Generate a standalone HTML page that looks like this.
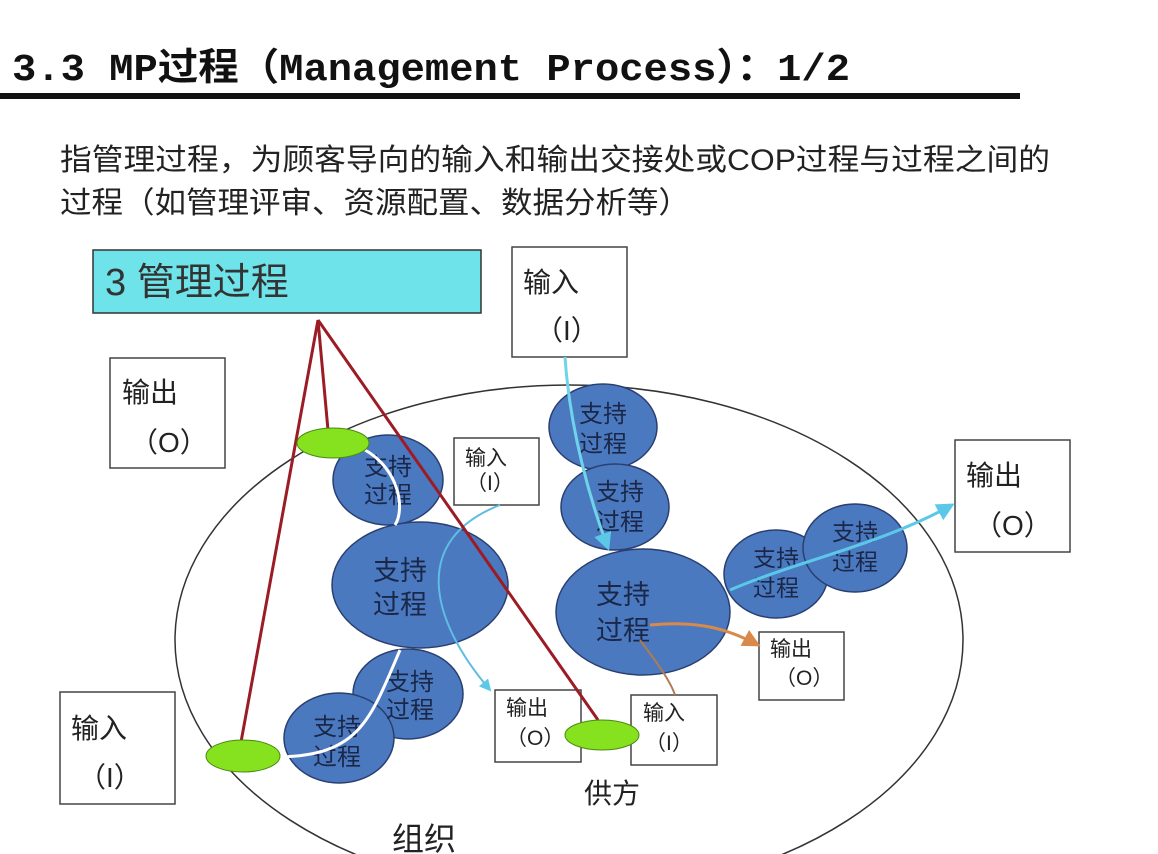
<!DOCTYPE html>
<html><head><meta charset="utf-8"><style>
body{margin:0;width:1158px;height:854px;background:#fff;overflow:hidden}
svg{display:block}
.t{font-family:"Liberation Sans","Noto Sans CJK SC",sans-serif}
</style></head><body>
<svg width="1158" height="854" viewBox="0 0 1158 854">
<defs>
<marker id="ac" markerWidth="6" markerHeight="6" refX="5" refY="3" orient="auto"><path d="M0,0 L6,3 L0,6 z" fill="#5cc8e8"/></marker>
<marker id="ao" markerWidth="6" markerHeight="6" refX="5" refY="3" orient="auto"><path d="M0,0 L6,3 L0,6 z" fill="#d98a4a"/></marker>
</defs>
<text x="12" y="80" font-size="38" font-weight="bold" textLength="838" lengthAdjust="spacingAndGlyphs" style="font-family:'Liberation Mono','Noto Sans CJK SC',monospace" fill="#111">3.3 MP过程（Management Process）：1/2</text>
<rect x="0" y="93" width="1020" height="6" fill="#111"/>
<text x="60" y="170" font-size="30" class="t" fill="#222" textLength="990" lengthAdjust="spacingAndGlyphs">指管理过程，为顾客导向的输入和输出交接处或COP过程与过程之间的</text>
<text x="60" y="213" font-size="30" class="t" fill="#222" textLength="630" lengthAdjust="spacingAndGlyphs">过程（如管理评审、资源配置、数据分析等）</text>

<ellipse cx="569" cy="640" rx="394" ry="255" fill="none" stroke="#333" stroke-width="1.5"/>

<rect x="93" y="250" width="388" height="63" fill="#6ee3ea" stroke="#333" stroke-width="1.5"/>
<text x="105" y="295" font-size="38" class="t" fill="#333">3  管理过程</text>

<g fill="#fff" stroke="#444" stroke-width="1.5">
<rect x="512" y="247" width="115" height="110"/>
<rect x="110" y="358" width="115" height="110"/>
<rect x="454" y="438" width="85" height="67"/>
<rect x="955" y="440" width="115" height="112"/>
<rect x="759" y="632" width="85" height="68"/>
<rect x="495" y="690" width="86" height="72"/>
<rect x="631" y="695" width="86" height="70"/>
<rect x="60" y="692" width="115" height="112"/>
</g>

<g fill="#4b79bf" stroke="#2a3f70" stroke-width="1.5">
<ellipse cx="388" cy="480" rx="55" ry="45"/>
<ellipse cx="408" cy="694" rx="55" ry="45"/>
<ellipse cx="339" cy="738" rx="55" ry="45"/>
<ellipse cx="420" cy="585" rx="88" ry="63"/>
<ellipse cx="603" cy="427" rx="54" ry="43"/>
<ellipse cx="615" cy="507" rx="54" ry="43"/>
<ellipse cx="643" cy="612" rx="87" ry="63"/>
<ellipse cx="776" cy="574" rx="52" ry="44"/>
<ellipse cx="855" cy="548" rx="52" ry="44"/>
</g>

<g class="t" fill="#1a2748" text-anchor="middle">
<text x="388" y="475" font-size="24">支持</text><text x="388" y="503" font-size="24">过程</text>
<text x="410" y="690" font-size="24">支持</text><text x="410" y="718" font-size="24">过程</text>
<text x="337" y="735" font-size="24">支持</text><text x="337" y="765" font-size="24">过程</text>
<text x="400" y="580" font-size="27">支持</text><text x="400" y="614" font-size="27">过程</text>
<text x="603" y="422" font-size="24">支持</text><text x="603" y="452" font-size="24">过程</text>
<text x="620" y="500" font-size="24">支持</text><text x="620" y="530" font-size="24">过程</text>
<text x="623" y="604" font-size="27">支持</text><text x="623" y="640" font-size="27">过程</text>
<text x="776" y="566" font-size="23">支持</text><text x="776" y="596" font-size="23">过程</text>
<text x="855" y="540" font-size="23">支持</text><text x="855" y="570" font-size="23">过程</text>
</g>

<g fill="none" stroke-width="3">
<path d="M565,357 C570,430 590,500 608,548" stroke="#6fd3ea" marker-end="url(#ac)"/>
<path d="M730,590 C800,560 880,545 952,505" stroke="#5cc8e8" marker-end="url(#ac)"/>
<path d="M500,505 C410,540 430,620 490,690" stroke="#5fbde0" stroke-width="2" marker-end="url(#ac)"/>
<path d="M650,625 C700,620 730,630 758,645" stroke="#d98a4a" marker-end="url(#ao)"/>
<path d="M640,640 C655,660 670,680 675,695" stroke="#b07a55" stroke-width="2"/>
<path d="M365,450 C400,470 405,510 395,525" stroke="#fff"/>
<path d="M280,757 C360,755 370,720 400,650" stroke="#fff"/>
</g>

<g stroke="#9b1c24" stroke-width="3">
<line x1="318" y1="320" x2="241" y2="742"/>
<line x1="318" y1="320" x2="328" y2="430"/>
<line x1="318" y1="320" x2="598" y2="720"/>
</g>

<g fill="#86e21e" stroke="#4a8a10" stroke-width="1">
<ellipse cx="333" cy="443" rx="36" ry="15"/>
<ellipse cx="243" cy="756" rx="37" ry="16"/>
<ellipse cx="602" cy="735" rx="37" ry="15"/>
</g>

<g class="t" fill="#222">
<text x="523" y="292" font-size="28">输入</text><text x="535" y="340" font-size="28">（I）</text>
<text x="122" y="402" font-size="28">输出</text><text x="130" y="452" font-size="28">（O）</text>
<text x="465" y="465" font-size="21">输入</text><text x="466" y="490" font-size="21">（I）</text>
<text x="966" y="485" font-size="28">输出</text><text x="974" y="535" font-size="28">（O）</text>
<text x="770" y="656" font-size="21">输出</text><text x="775" y="685" font-size="21">（O）</text>
<text x="506" y="715" font-size="21">输出</text><text x="506" y="745" font-size="21">（O）</text>
<text x="643" y="720" font-size="21">输入</text><text x="645" y="750" font-size="21">（I）</text>
<text x="71" y="738" font-size="28">输入</text><text x="78" y="787" font-size="28">（I）</text>
<text x="584" y="803" font-size="28">供方</text>
<text x="392" y="850" font-size="32">组织</text>
</g>
</svg>
</body></html>
